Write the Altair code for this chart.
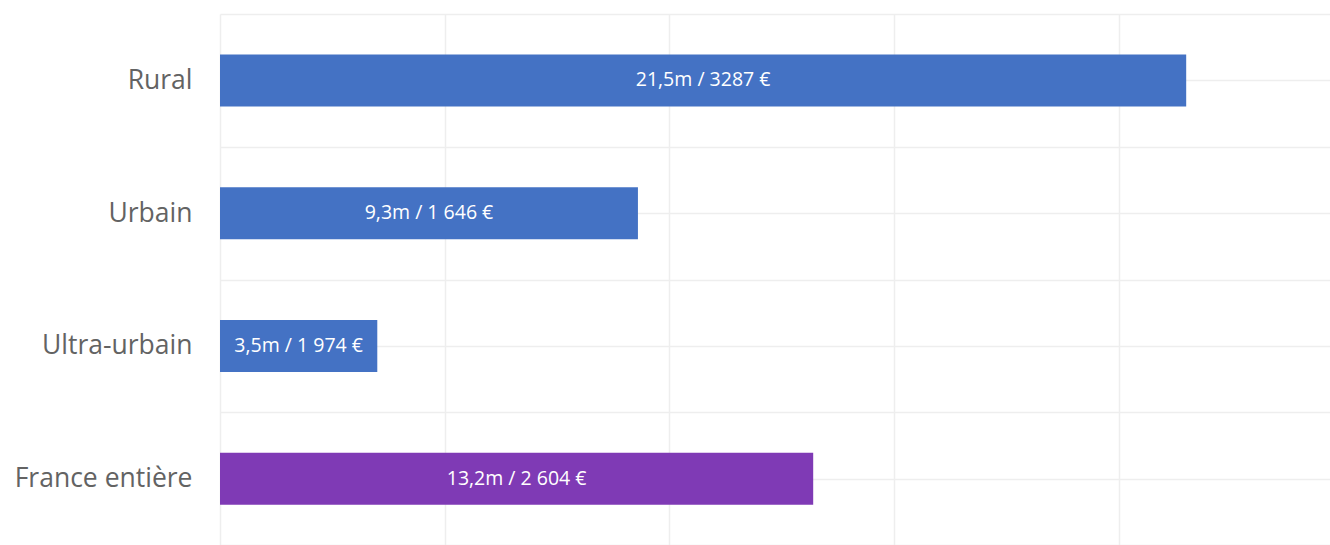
import json
import altair as alt
import pandas as pd

categories = ["Rural", "Urbain", "Ultra-urbain", "France entière"]
values = [21.5, 9.3, 3.5, 13.2]
bar_labels = ["21,5m /  3287 €", "9,3m / 1 646 €", "3,5m / 1 974 €", "13,2m / 2 604 €"]
groups = ["zone", "zone", "zone", "total"]

df = pd.DataFrame({
    "cat": categories,
    "idx": list(range(len(categories))),
    "value": values,
    "label": bar_labels,
    "group": groups,
})

cat_js = json.dumps(categories, ensure_ascii=False)
y_ticks = [i * 0.5 - 0.5 for i in range(2 * len(categories) + 1)]

y_enc = alt.Y(
    "idx:Q",
    scale=alt.Scale(domain=[-0.5, len(categories) - 0.5], reverse=True, nice=False,
                    zero=False, padding=0),
    axis=alt.Axis(
        values=y_ticks,
        labelExpr=f"datum.value % 1 === 0 ? {cat_js}[datum.value] : ''",
        title=None,
        domain=False,
        ticks=False,
        tickSize=0,
        labelPadding=28,
        labelFont="Open Sans",
        labelFontSize=26.5,
        labelColor="#636363",
        gridColor="#eeeeee",
        gridWidth=1.5,
        minExtent=220,
        maxExtent=220,
    ),
)

x_scale = alt.Scale(domain=[0, 24.7], nice=False, zero=True, padding=0)
x_axis = alt.Axis(
    values=[0, 5, 10, 15, 20],
    labels=False,
    ticks=False,
    domain=False,
    title=None,
    gridColor="#eeeeee",
    gridWidth=1.5,
    minExtent=0,
    maxExtent=0,
)

bars = alt.Chart(df).mark_bar(orient="horizontal", size=52).encode(
    x=alt.X("value:Q", scale=x_scale, axis=x_axis),
    y=y_enc,
    color=alt.Color(
        "group:N",
        scale=alt.Scale(domain=["zone", "total"], range=["#4472C4", "#7F3AB5"]),
        legend=None,
    ),
)

texts = alt.Chart(df).transform_calculate(mid="datum.value / 2").mark_text(
    color="white", font="Open Sans", fontSize=19.5, align="center", baseline="middle"
).encode(
    x=alt.X("mid:Q", scale=x_scale, axis=x_axis),
    y=y_enc,
    text="label:N",
)

chart = (bars + texts).properties(
    width=1110,
    height=531,
    padding={"left": 0, "top": 14, "right": 0, "bottom": 0},
    background="white",
).configure_view(strokeOpacity=0)

chart.save("out.html", embed_options={"renderer": "svg", "actions": False})
